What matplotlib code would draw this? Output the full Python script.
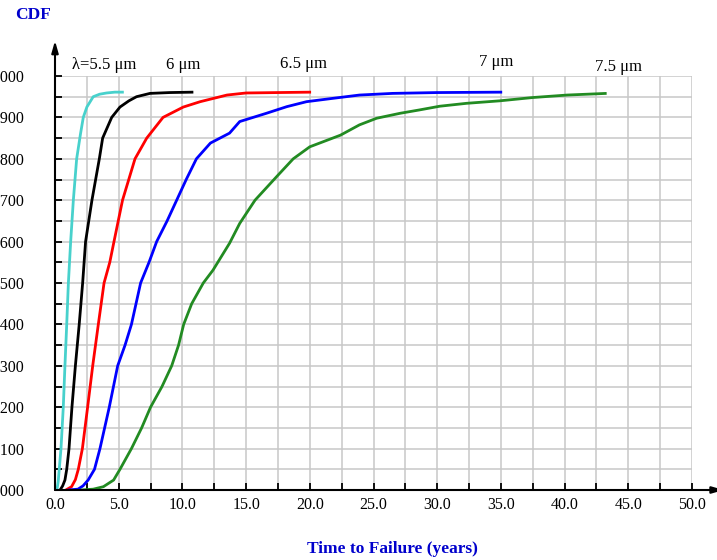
import matplotlib
matplotlib.use("Agg")
import matplotlib.pyplot as plt
from matplotlib.ticker import MultipleLocator, FormatStrFormatter

plt.rcParams['font.family'] = ['Liberation Serif', 'DejaVu Serif']

# ------------------------------
# DATA
# ------------------------------
cyan_x = [0.15, 0.25, 0.47, 0.65, 0.78, 0.92, 1.05, 1.23, 1.44, 1.7, 2.0, 2.22, 2.5, 3.0, 3.5, 4.05, 4.7, 5.4]
cyan_y = [0.0, 0.02, 0.1, 0.2, 0.3, 0.4, 0.5, 0.6, 0.7, 0.8, 0.86, 0.9, 0.925, 0.95, 0.956, 0.959, 0.961, 0.961]

black_x = [0.4, 0.6, 0.78, 0.92, 1.1, 1.33, 1.6, 1.9, 2.17, 2.4, 2.9, 3.48, 3.74, 4.45, 5.1, 5.8, 6.4, 7.46, 9.0, 10.86]
black_y = [0.0, 0.01, 0.024, 0.05, 0.1, 0.2, 0.3, 0.4, 0.5, 0.6, 0.7, 0.8, 0.85, 0.9, 0.925, 0.94, 0.95, 0.958, 0.96, 0.961]

red_x = [0.85, 1.3, 1.6, 1.83, 2.15, 2.56, 2.96, 3.4, 3.85, 4.3, 4.63, 5.3, 6.28, 7.2, 8.48, 10.07, 11.4, 13.5, 15.0, 17.5, 20.1]
red_y = [0.0, 0.008, 0.025, 0.05, 0.1, 0.2, 0.3, 0.4, 0.5, 0.55, 0.6, 0.7, 0.8, 0.85, 0.9, 0.925, 0.938, 0.954, 0.959, 0.96, 0.961]

blue_x = [1.0, 1.8, 2.2, 2.6, 3.1, 3.53, 4.26, 4.92, 5.5, 6.0, 6.72, 7.38, 7.98, 8.8, 9.55, 10.3, 11.1,
          12.2, 13.7, 14.5, 16.6, 18.2, 19.75, 21.8, 23.9, 26.5, 30.0, 35.1]
blue_y = [0.0, 0.002, 0.01, 0.024, 0.05, 0.1, 0.2, 0.3, 0.35, 0.4, 0.5, 0.55, 0.6, 0.65, 0.7, 0.75, 0.8,
          0.838, 0.862, 0.89, 0.91, 0.926, 0.938, 0.946, 0.954, 0.958, 0.96, 0.961]

green_x = [2.0, 3.0, 3.8, 4.6, 5.1, 6.0, 6.8, 7.5, 8.4, 9.16, 9.7, 10.1, 10.73, 11.64, 12.4, 13.7, 14.5,
           15.7, 17.4, 18.7, 20.0, 22.4, 23.9, 25.25, 27.1, 28.6, 30.2, 32.3, 34.9, 37.5, 40.2, 43.3]
green_y = [0.0, 0.002, 0.008, 0.024, 0.05, 0.1, 0.15, 0.2, 0.25, 0.3, 0.35, 0.4, 0.45, 0.5, 0.531, 0.596, 0.644,
           0.70, 0.757, 0.80, 0.829, 0.857, 0.882, 0.898, 0.91, 0.918, 0.927, 0.934, 0.94, 0.948, 0.954, 0.958]

curve_labels = ["\u03bb=5.5 \u03bcm", "6 \u03bcm", "6.5 \u03bcm", "7 \u03bcm", "7.5 \u03bcm"]
label_x = [3.9, 10.1, 19.5, 34.6, 44.2]
label_y = [1.026, 1.026, 1.029, 1.034, 1.022]

# ------------------------------
# FIGURE
# ------------------------------
fig = plt.figure(figsize=(7.17, 5.6), dpi=100)
ax = fig.add_axes([55 / 717, 70 / 560, 637 / 717, 414 / 560])

curves = [(cyan_x, cyan_y, '#48d1cc'), (black_x, black_y, 'black'), (red_x, red_y, '#ff0000'),
          (blue_x, blue_y, '#0000ff'), (green_x, green_y, '#228b22')]
for xs, ys, col in curves:
    ax.plot(xs, ys, color=col, lw=2.0, zorder=3, solid_capstyle='butt')

for txt, lx, ly in zip(curve_labels, label_x, label_y):
    ax.text(lx, ly, txt, ha='center', va='center', fontsize=12, clip_on=False)

ax.set_xlim(0, 50)
ax.set_ylim(0, 1)
ax.xaxis.set_major_locator(MultipleLocator(5))
ax.xaxis.set_minor_locator(MultipleLocator(2.5))
ax.yaxis.set_major_locator(MultipleLocator(0.1))
ax.yaxis.set_minor_locator(MultipleLocator(0.05))
ax.xaxis.set_major_formatter(FormatStrFormatter('%.1f'))
ax.yaxis.set_major_formatter(FormatStrFormatter('%.3f'))

ax.grid(which='both', color='#c8c8c8', lw=1.1, zorder=0)
ax.set_axisbelow(True)
for s in ax.spines.values():
    s.set_visible(False)

ax.tick_params(which='both', direction='in', length=5, width=1.3, color='black')
ax.tick_params(axis='y', which='major', pad=22, labelsize=11.5)
ax.tick_params(axis='x', which='major', pad=5, labelsize=11.5)

# axis lines with arrow heads
arrow = dict(arrowstyle='-|>,head_length=0.7,head_width=0.2', color='black', lw=1.5, shrinkA=0, shrinkB=0)
ax.annotate('', xy=(0, 1.085), xytext=(0, 0), arrowprops=arrow, annotation_clip=False)
ax.annotate('', xy=(52.5, 0), xytext=(0, 0), arrowprops=arrow, annotation_clip=False)

fig.text(33 / 717, 1 - 15 / 560, "CDF", color='#0000cc', fontweight='bold', fontsize=12.5,
         ha='center', va='center')
fig.text(392 / 717, 1 - 549 / 560, "Time to Failure (years)", color='#0000cc', fontweight='bold',
         fontsize=12.5, ha='center', va='center')

fig.savefig("out.png", dpi=100)
